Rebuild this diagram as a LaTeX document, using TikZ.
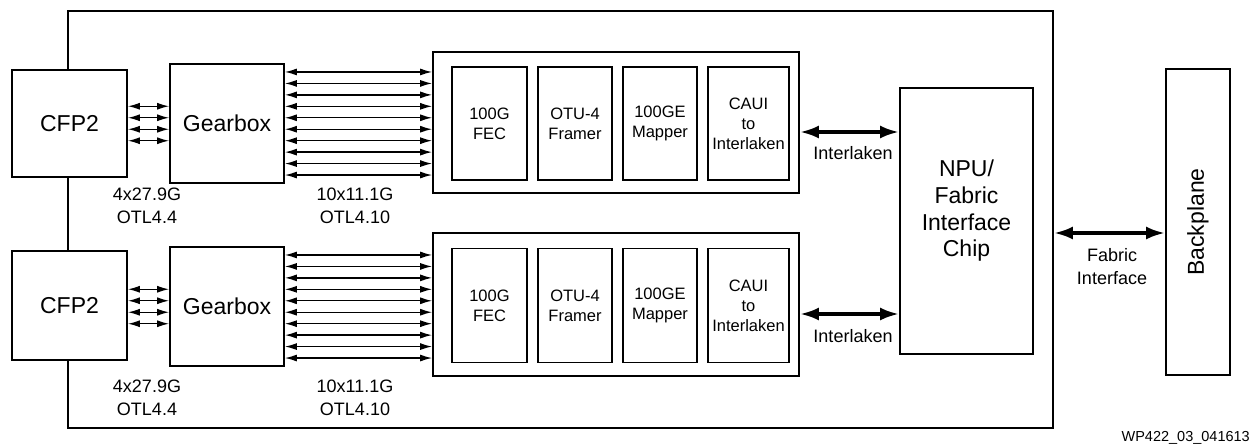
\documentclass[tikz,border=0pt]{standalone}
\usepackage{fontspec}
\setmainfont{Liberation Sans}
\usetikzlibrary{arrows.meta,calc,positioning}

\begin{document}
\begin{tikzpicture}[x=1pt, y=-1pt,
  blk/.style={draw, line width=1.8pt, fill=white, inner sep=0pt, align=center},
  big/.style={font=\fontsize{23}{26.7}\selectfont},
  small/.style={font=\fontsize{16.5}{20}\selectfont},
  note/.style={font=\fontsize{18}{23.3}\selectfont, align=center, inner sep=0pt},
  lane/.style={{Latex[length=12pt,width=7pt]}-{Latex[length=12pt,width=7pt]}, line width=1.3pt},
  bus/.style={{Latex[length=19pt,width=13pt]}-{Latex[length=19pt,width=13pt]}, line width=3.5pt}]
\useasboundingbox (0,0) rectangle (1255,444);
% line card
\node[draw, line width=1.8pt, inner sep=0pt, minimum width=985pt, minimum height=417pt] (board) at (560.5,219.5) {};

% upper path
\node[blk, big, minimum width=115pt, minimum height=107pt] (cfpA) at (69.5,123.5) {CFP2};
\node[blk, big, minimum width=114pt, minimum height=119pt] (gbA) at (227,123.5) {Gearbox};
\node[blk, minimum width=366pt, minimum height=141pt] (modA) at (616,122.5) {};
\node[blk, small, minimum width=75pt, minimum height=113pt] (fecA) at (489.5,123.5) {100G\\FEC};
\node[blk, small, minimum width=74pt, minimum height=113pt] (frmA) at (575,123.5) {OTU-4\\Framer};
\node[blk, small, minimum width=74pt, minimum height=113pt] (mapA) at (660,123.5) {100GE\\Mapper};
\node[blk, small, minimum width=81pt, minimum height=113pt] (cauA) at (748.5,123.5) {CAUI\\to\\Interlaken};

% lower path
\node[blk, big, minimum width=115pt, minimum height=109pt] (cfpB) at (69.5,305.5) {CFP2};
\node[blk, big, minimum width=114pt, minimum height=119pt] (gbB) at (227,306.5) {Gearbox};
\node[blk, minimum width=366pt, minimum height=143pt] (modB) at (616,304.5) {};
\node[blk, small, minimum width=75pt, minimum height=114pt] (fecB) at (489.5,305.5) {100G\\FEC};
\node[blk, small, minimum width=74pt, minimum height=114pt] (frmB) at (575,305.5) {OTU-4\\Framer};
\node[blk, small, minimum width=74pt, minimum height=114pt] (mapB) at (660,305.5) {100GE\\Mapper};
\node[blk, small, minimum width=81pt, minimum height=114pt] (cauB) at (748.5,305.5) {CAUI\\to\\Interlaken};

% NPU and backplane
\node[blk, minimum width=133pt, minimum height=266pt] (npu) at (966.5,221) {};
\node[big, align=center, inner sep=0pt] (npuTxt) at (966.5,211) {NPU/\\Fabric\\Interface\\Chip};
\node[blk, big, minimum width=64pt, minimum height=306pt] (bp) at (1198,222) {\rotatebox{90}{Backplane}};

% lanes
\foreach \g/\c in {gbA/cfpA, gbB/cfpB} {
  \foreach \k in {-1.5,-0.5,0.5,1.5} {
    \coordinate (t) at ([yshift=\k*11.5pt]\g.west);
    \draw[lane] (\c.east |- t) -- (t);
  }
}
\foreach \g/\m in {gbA/modA, gbB/modB} {
  \foreach \k in {-4.5,-3.5,...,4.5} {
    \coordinate (t) at ([yshift=\k*11.45pt]\g.east);
    \draw[lane] (t) -- (\m.west |- t);
  }
}
\draw[bus] (modA.east |- 0,132) -- (npu.west |- 0,132);
\draw[bus] (modB.east |- 0,314) -- (npu.west |- 0,314);
\draw[bus] (board.east |- 0,233) -- (bp.west |- 0,233);

% labels
\node[note] (rateA) at (147,206) {4x27.9G\\OTL4.4};
\node[note] (laneA) at (355,206) {10x11.1G\\OTL4.10};
\node[note] (rateB) at (147,398) {4x27.9G\\OTL4.4};
\node[note] (laneB) at (355,398) {10x11.1G\\OTL4.10};
\node[note] (ilA) at (853,153) {Interlaken};
\node[note] (ilB) at (853,336.5) {Interlaken};
\node[note] (fab) at (1112,266.5) {Fabric\\Interface};
\node[anchor=base east, inner sep=0pt, font=\fontsize{14.5}{17}\selectfont] (tag) at (1250,441.7) {WP422\_03\_041613};
\end{tikzpicture}
\end{document}
